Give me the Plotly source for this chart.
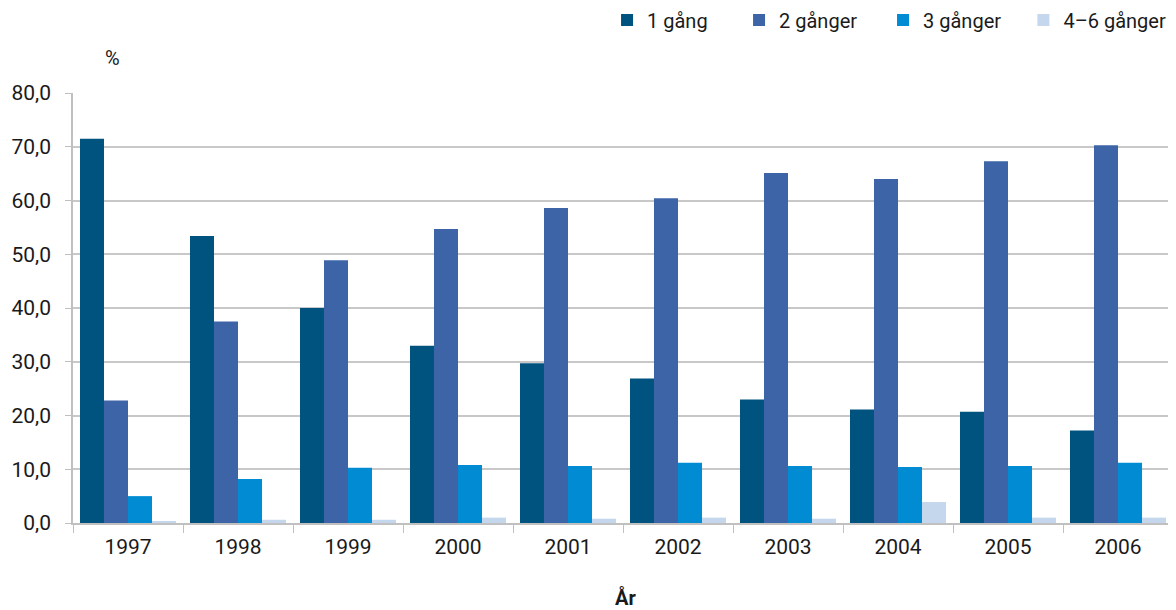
import plotly.graph_objects as go

years = ["1997", "1998", "1999", "2000", "2001", "2002", "2003", "2004", "2005", "2006"]
gang1 = [71.5, 53.4, 40.0, 33.0, 29.7, 26.9, 23.0, 21.1, 20.7, 17.2]
gang2 = [22.8, 37.5, 48.9, 54.7, 58.6, 60.4, 65.1, 64.0, 67.3, 70.3]
gang3 = [5.0, 8.2, 10.3, 10.8, 10.6, 11.2, 10.6, 10.4, 10.6, 11.2]
gang4_6 = [0.2, 0.6, 0.6, 1.0, 0.8, 1.0, 0.8, 3.9, 1.0, 1.0]

names = ["1 gång", "2 gånger", "3 gånger", "4–6 gånger"]
colors = ["#00527f", "#3e64a8", "#008bd2", "#c5d7ec"]
series = [gang1, gang2, gang3, gang4_6]
legend_ids = ["legend", "legend2", "legend3", "legend4"]
legend_x = [0.4855, 0.6055, 0.7364, 0.8640]

FONT = "Liberation Sans Narrow, Roboto, sans-serif"

fig = go.Figure()
for n, c, s, lg in zip(names, colors, series, legend_ids):
    fig.add_trace(go.Bar(x=years, y=s, name=n, legend=lg,
                         marker=dict(color=c, line=dict(width=0))))

legend_common = dict(orientation="h", xanchor="left", y=1.17, yanchor="middle",
                     font=dict(size=20, family=FONT), itemwidth=30,
                     bgcolor="rgba(0,0,0,0)")
layout_legends = {}
for lg, lx in zip(legend_ids, legend_x):
    layout_legends[lg] = dict(legend_common, x=lx)

fig.update_layout(
    width=1168, height=602,
    barmode="group", bargap=0.127, bargroupgap=0,
    plot_bgcolor="white", paper_bgcolor="white",
    separators=", ",
    margin=dict(l=65, r=3, t=85, b=87, autoexpand=False),
    font=dict(family=FONT, size=20, color="#1a1a1a"),
    showlegend=True,
    **layout_legends,
)
fig.update_yaxes(range=[0, 80], dtick=10, tickformat=".1f", showgrid=True,
                 gridcolor="#c8c8c8", gridwidth=1.5, showline=True, linecolor="#c0c0c0",
                 linewidth=1.5, ticks="outside", ticklen=6, tickcolor="#c0c0c0",
                 tickfont=dict(size=21), zeroline=False, ticklabelstandoff=10)
fig.update_xaxes(showline=True, linecolor="#c0c0c0", linewidth=1.5, ticks="outside",
                 tickson="boundaries", ticklen=8, tickcolor="#c0c0c0",
                 tickfont=dict(size=21), ticklabelstandoff=4)
fig.add_annotation(text="%", xref="paper", yref="paper", x=0.0277, y=1.114,
                   showarrow=False, font=dict(size=20, family=FONT))
fig.add_annotation(text="<b>År</b>", xref="paper", yref="paper", x=0.502, y=-0.207,
                   showarrow=False, font=dict(size=20, family=FONT))

fig.write_html("out.html")
